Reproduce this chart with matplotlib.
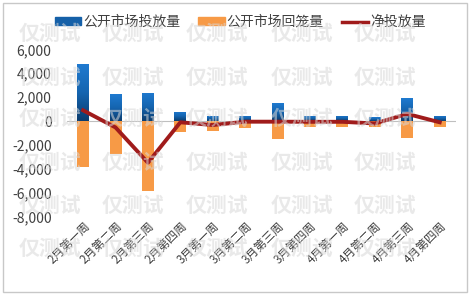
import matplotlib
matplotlib.use("Agg")
import matplotlib.pyplot as plt
import numpy as np
from matplotlib.colors import LinearSegmentedColormap
from matplotlib.patches import Rectangle, Patch
from matplotlib.lines import Line2D
from matplotlib.ticker import FuncFormatter

plt.rcParams['font.family'] = ['Noto Sans CJK SC', 'DejaVu Sans']

categories = ['2月第一周', '2月第二周', '2月第三周', '2月第四周',
              '3月第一周', '3月第二周', '3月第三周', '3月第四周',
              '4月第一周', '4月第二周', '4月第三周', '4月第四周']
injection = [4750, 2250, 2370, 790, 450, 450, 1490, 430, 430, 320, 1900, 430]
withdrawal = [-3850, -2780, -5850, -890, -830, -550, -1500, -520, -520, -520, -1400, -520]
net = [900, -530, -3480, -100, -330, -50, -50, -60, -60, -200, 600, -100]
yticks = [6000, 4000, 2000, 0, -2000, -4000, -6000, -8000]
legend_labels = ['公开市场投放量', '公开市场回笼量', '净投放量']
watermark = '仅测试'

fig = plt.figure(figsize=(4.71, 2.97), dpi=100)
ax = fig.add_axes([0.142, 0.270, 0.826, 0.564])

x = np.arange(len(categories))
w = 0.37
blue_cmap = LinearSegmentedColormap.from_list('b', ['#0b3c6e', '#1565b0', '#1f7ad0'])
grad = np.linspace(0, 1, 256).reshape(-1, 1)

bars_b = ax.bar(x, injection, width=w, color='#1a6fc0', zorder=2)
for b in bars_b:
    x0 = b.get_x()
    im = ax.imshow(grad, cmap=blue_cmap, aspect='auto', origin='lower',
                   extent=[x0, x0 + b.get_width(), 0, b.get_height()], zorder=2.1)
    im.set_clip_path(b)
ax.bar(x, withdrawal, width=w, color='#f79a46', zorder=2)
ax.plot(x, net, color='#a01b1b', lw=2.8, zorder=3)
ax.axhline(0, color='#bfbfbf', lw=0.8, zorder=1)

ax.set_xlim(-0.5, len(categories) - 0.5)
ax.set_ylim(-8000, 6000)
ax.set_yticks(yticks)
ax.yaxis.set_major_formatter(FuncFormatter(lambda v, p: f'{int(v):,}'))
ax.set_xticks(x)
ax.set_xticklabels(categories, rotation=45, ha='right', rotation_mode='anchor')
ax.tick_params(axis='y', length=0, pad=11, labelsize=10, labelcolor='#404040')
ax.tick_params(axis='x', length=0, pad=2, labelsize=8.5, labelcolor='#404040')
for s in ax.spines.values():
    s.set_visible(False)

handles = [Patch(color='#1560a8'), Patch(color='#f79a46'),
           Line2D([0], [0], color='#a01b1b', lw=2.5)]
fig.legend(handles, legend_labels, loc='center', bbox_to_anchor=(0.51, 0.926), ncol=3,
           frameon=False, fontsize=10, handlelength=1.9, handleheight=0.45,
           handletextpad=0.15, columnspacing=1.3, labelcolor='#404040')

fig.add_artist(Rectangle((0.007, 0.017), 0.984, 0.972, transform=fig.transFigure,
                         fill=False, edgecolor='#c8c8c8', lw=1))

for yy in [33, 77, 118, 162, 205, 248]:
    for xx in [50, 133, 217, 302, 385]:
        fig.text(xx / 471, 1 - yy / 297, watermark, fontsize=15, fontweight='bold',
                 color='#d8d8d8', alpha=0.55, ha='center', va='center', zorder=10)

fig.savefig('out.png', dpi=100)
